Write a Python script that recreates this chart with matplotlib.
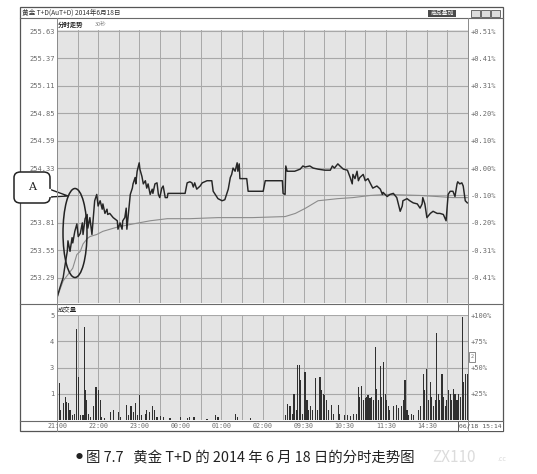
import matplotlib
matplotlib.use("Agg")
import matplotlib.pyplot as plt
from matplotlib.patches import Rectangle, Ellipse, FancyBboxPatch, Polygon
from matplotlib.lines import Line2D

plt.rcParams['font.family'] = ['Noto Sans CJK SC', 'DejaVu Sans']

# ---------------- data ----------------
price_t = [0,4,9,12,15,16,19,22,23,26,29,31,34,37,38,41,44,45,48,51,53,55,58,60,63,66,67,70,73,74,77,82,88,89,92,95,96,99,101,102,107,110,111,114,115,117,120,121,124,126,129,131,133,136,139,140,143,146,148,150,153,155,158,161,162,175,187,190,194,197,199,201,204,209,212,219,226,228,234,235,241,245,248,250,253,255,257,260,263,264,266,267,277,279,289,301,304,314,329,330,333,334,336,347,355,359,362,369,374,381,391,399,402,405,410,413,418,424,428,431,432,435,438,440,442,447,450,454,457,461,467,472,475,476,482,486,491,496,501,504,505,511,515,520,526,530,533,534,537,540,545,549,555,559,564,568,571,574,578,581,584,585,588,591,593,596,599]
price_v = [253.10,253.19,253.29,253.42,253.54,253.64,253.54,253.67,253.62,253.73,253.80,253.68,253.71,253.81,253.70,253.85,253.89,253.76,253.86,253.70,253.86,254.02,254.08,253.97,254.02,253.94,253.99,253.90,253.94,253.89,253.90,253.86,253.83,253.75,253.81,253.75,253.83,253.86,253.95,253.75,254.08,254.14,254.18,254.24,254.18,254.30,254.38,254.32,254.25,254.18,254.21,254.14,254.18,254.08,254.13,254.09,254.18,254.19,254.08,254.05,254.14,254.16,254.05,254.05,254.09,254.09,254.09,254.19,254.20,254.19,254.15,254.19,254.13,254.16,254.19,254.21,254.21,254.11,254.05,254.04,254.02,254.03,254.09,254.13,254.24,254.27,254.33,254.30,254.38,254.30,254.37,254.23,254.23,254.11,254.11,254.11,254.21,254.21,254.21,254.09,254.08,254.35,254.30,254.30,254.32,254.35,254.34,254.35,254.33,254.32,254.31,254.31,254.35,254.33,254.37,254.35,254.32,254.31,254.24,254.18,254.27,254.23,254.30,254.21,254.24,254.27,254.21,254.23,254.19,254.14,254.16,254.13,254.08,254.10,254.06,254.08,254.09,254.05,253.92,253.97,254.02,254.04,254.02,254.00,253.99,253.95,253.99,254.05,253.99,253.86,253.90,253.92,253.90,253.90,253.89,253.83,254.08,254.11,254.11,254.06,254.18,254.20,254.18,254.19,254.16,254.02,254.00]

avg_t = [0,9,23,29,34,38,44,48,58,67,88,111,136,161,194,235,285,333,348,363,381,410,432,457,482,531,555,578,599]
avg_v = [253.10,253.26,253.38,253.51,253.54,253.61,253.66,253.68,253.70,253.73,253.77,253.80,253.83,253.85,253.85,253.86,253.86,253.87,253.90,253.95,254.02,254.04,254.05,254.07,254.08,254.07,254.06,254.05,254.05]

vol_t = [0,3,5,9,12,14,17,19,22,25,29,31,34,38,40,41,43,46,49,53,57,60,63,65,70,78,82,90,93,101,104,108,112,114,118,120,124,129,131,135,139,142,146,151,156,165,180,190,194,200,219,231,235,260,264,282,
         333,336,339,341,344,346,349,351,354,356,358,362,365,367,370,373,377,380,384,386,389,391,394,396,401,403,411,413,420,424,429,433,437,440,442,445,447,450,452,454,457,459,462,465,467,469,472,474,476,479,481,484,486,491,496,498,503,506,508,511,513,518,520,528,530,535,537,540,542,545,547,550,552,554,557,559,562,564,567,569,571,574,576,579,581,584,586,589,592,594,597,599]
vol_v = [21,35,10,16,22,17,16,10,5,6,87,41,5,5,89,29,19,6,3,13,31,29,19,3,2,8,10,8,3,14,5,13,8,16,5,24,5,6,10,8,13,10,3,4,3,2,3,2,3,3,1,5,3,6,3,2,
         5,15,13,13,6,25,10,52,52,38,6,46,19,10,13,10,40,10,41,29,25,24,19,10,14,6,14,6,5,5,4,6,6,31,22,32,19,21,22,24,21,22,19,70,30,19,51,22,55,25,19,13,10,13,14,11,13,19,38,10,5,6,5,10,13,44,29,49,19,36,22,13,19,83,25,19,44,22,13,19,29,25,19,30,25,19,25,22,98,36,44,44]

price_ticks = [255.63,255.37,255.11,254.85,254.59,254.33,254.07,253.81,253.55,253.29]
pct_labels = ['+0.51%','+0.41%','+0.31%','+0.20%','+0.10%','+0.00%','-0.10%','-0.20%','-0.31%','-0.41%']
vol_ticks = [100,75,50,25]
vol_left_labels = ['5','4','3','1']
vol_right_labels = ['+100%','+75%','+50%','+25%']
time_pos = [0,60,120,180,240,300,360,420,480,540]
time_labels = ['21:00','22:00','23:00','00:00','01:00','02:00','09:30','10:30','11:30','14:30']

# ---------------- figure ----------------
W, H = 537, 474
fig = plt.figure(figsize=(W/100, H/100), dpi=100)
fig.patch.set_facecolor('white')

def fx(x): return x / W
def fy(y): return 1 - y / H

GRID = '#a8a8a8'
BG = '#e4e4e4'
LBL = '#6a6a6a'
mono = 'DejaVu Sans Mono'

L, R = 57, 468
# price axes
axp = fig.add_axes([fx(L), fy(303), (R-L)/W, (303-30)/H])
axp.set_facecolor(BG)
axp.set_xlim(0, 600)
axp.set_ylim(253.05, 255.64)
axp.set_yticks(price_ticks)
axp.set_yticklabels([f'{v:.2f}' for v in price_ticks], fontfamily=mono, fontsize=5, color=LBL)
axp.set_xticks([])
axp.tick_params(axis='y', length=0, pad=1.5)
for v in price_ticks:
    axp.axhline(v, color=GRID, lw=0.8, zorder=1)
for t in range(30, 600, 30):
    axp.axvline(t, color=GRID, lw=0.7, zorder=1)
for s in axp.spines.values():
    s.set_visible(False)
axp.plot(avg_t, avg_v, color='#8c8c8c', lw=0.8, zorder=3)
axp.plot(price_t, price_v, color='#262626', lw=1.05, zorder=4)
axr = axp.twinx()
axr.set_ylim(axp.get_ylim())
axr.set_yticks(price_ticks)
axr.set_yticklabels(pct_labels, fontfamily=mono, fontsize=5, color=LBL)
axr.tick_params(axis='y', length=0, pad=2)
for s in axr.spines.values():
    s.set_visible(False)

# volume axes
axv = fig.add_axes([fx(L), fy(420), (R-L)/W, (420-315)/H])
axv.set_facecolor(BG)
axv.set_xlim(0, 600)
axv.set_ylim(0, 100)
axv.set_yticks(vol_ticks)
axv.set_yticklabels(vol_left_labels, fontfamily=mono, fontsize=5, color=LBL)
axv.set_xticks([])
axv.tick_params(axis='y', length=0, pad=2)
for v in vol_ticks:
    axv.axhline(v, color=GRID, lw=0.8, zorder=1)
for t in range(30, 600, 30):
    axv.axvline(t, color=GRID, lw=0.7, zorder=1)
for s in axv.spines.values():
    s.set_visible(False)
axv.bar(vol_t, vol_v, width=1.6, color='#303030', zorder=3)
axv2 = axv.twinx()
axv2.set_ylim(0, 100)
axv2.set_yticks(vol_ticks)
axv2.set_yticklabels(vol_right_labels, fontfamily=mono, fontsize=5, color=LBL)
axv2.tick_params(axis='y', length=0, pad=2)
for s in axv2.spines.values():
    s.set_visible(False)

# ---------------- window frame ----------------
def hline(y, x0, x1, c='#6a6a6a', lw=0.8):
    fig.add_artist(Line2D([fx(x0), fx(x1)], [fy(y), fy(y)], color=c, lw=lw))
def vline(x, y0, y1, c='#6a6a6a', lw=0.8):
    fig.add_artist(Line2D([fx(x), fx(x)], [fy(y0), fy(y1)], color=c, lw=lw))

fig.add_artist(Rectangle((fx(20), fy(431)), (503-20)/W, (431-7)/H, fill=False,
                         edgecolor='#555555', lw=0.9))
hline(18, 20, 503)
hline(303.5, 20, 503)
hline(420.5, 20, 503)
vline(L, 18, 431, c='#8a8a8a', lw=0.7)
vline(R, 18, 431, c='#8a8a8a', lw=0.7)

fig.text(fx(22), fy(12.5), '黄金 T+D(AuT+D) 2014年6月18日', fontsize=4.8, color='#333333',
         va='center', ha='left')
fig.add_artist(Rectangle((fx(428), fy(17)), 28/W, 7/H, facecolor='#4a4a4a', edgecolor='none'))
fig.text(fx(442), fy(13.5), '商品叠加', fontsize=4.2, color='white', va='center', ha='center')
for x0 in (471, 481, 491):
    fig.add_artist(Rectangle((fx(x0), fy(17)), 9/W, 7/H, facecolor='#dddddd', edgecolor='#555555', lw=0.6))

fig.text(fx(58), fy(25), '分时走势', fontsize=4.6, color='#222222', va='center', ha='left',
         fontweight='bold')
fig.text(fx(95), fy(25), '30秒', fontsize=4, color='#888888', va='center', ha='left')
fig.text(fx(58), fy(310), '成交量', fontsize=4.6, color='#222222', va='center', ha='left')

for t, lab in zip(time_pos, time_labels):
    fig.text(fx(L + t * (R - L) / 600), fy(425.8), lab, fontfamily=mono, fontsize=4.8,
             color=LBL, va='center', ha='center')
fig.add_artist(Rectangle((fx(458), fy(430.5)), 45/W, 10/H, facecolor='white',
                         edgecolor='#555555', lw=0.7))
fig.text(fx(480.5), fy(425.8), '06/18 15:14', fontfamily=mono, fontsize=4.6, color='#555555',
         va='center', ha='center')
fig.add_artist(Rectangle((fx(469), fy(362)), 6/W, 10/H, facecolor='white',
                         edgecolor='#777777', lw=0.6))
fig.text(fx(472), fy(357), '2', fontsize=4, color='#777777', va='center', ha='center')

# ---------------- annotation A ----------------
fig.add_artist(Ellipse((fx(75), fy(233)), 24/W, 89/H, fill=False, edgecolor='#222222', lw=1.1))
fig.add_artist(Polygon([(fx(49), fy(189)), (fx(68), fy(196)), (fx(49), fy(197))],
                       closed=True, facecolor='white', edgecolor='#222222', lw=1.0))
fig.add_artist(FancyBboxPatch((fx(14), fy(203)), 36/W, 31/H,
                              boxstyle='round,pad=0,rounding_size=0.012',
                              facecolor='white', edgecolor='#222222', lw=1.1))
fig.add_artist(Line2D([fx(49.6), fx(49.6)], [fy(190), fy(196)], color='white', lw=1.6))
fig.text(fx(32), fy(187.5), 'A', fontsize=8, color='#222222', va='center', ha='center',
         fontfamily='DejaVu Serif')

# ---------------- caption ----------------
fig.text(fx(76), fy(457), '●', fontsize=5, color='#222222', va='center', ha='left')
fig.text(fx(86), fy(457), '图 7.7   黄金 T+D 的 2014 年 6 月 18 日的分时走势图',
         fontsize=10.4, color='#222222', va='center', ha='left', fontweight='medium')
fig.text(fx(432), fy(457), 'ZX110', fontsize=11, color='#dcdcdc', va='center', ha='left',
         fontweight='light')
fig.text(fx(497), fy(459), '.cc', fontsize=5, color='#dcdcdc', va='center', ha='left')

fig.savefig('out.png', dpi=100, facecolor='white')
